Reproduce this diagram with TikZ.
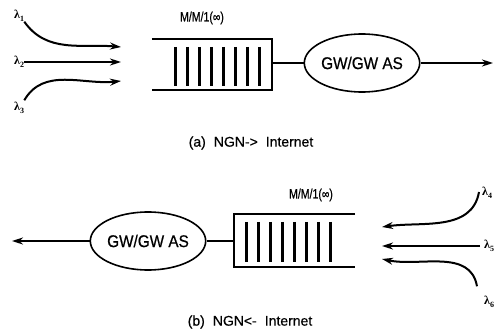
\documentclass[tikz,border=0pt]{standalone}
\usepackage{fontspec}
\setmainfont{Liberation Sans}[FakeBold=0.6]
\newfontfamily\capfont{Liberation Sans}[FakeBold=0.6]
\newfontfamily\gwfont{Liberation Sans}[FakeStretch=0.9,FakeBold=0.6]
\newfontfamily\mmfont{Liberation Sans}[FakeStretch=0.78,FakeBold=0.6]
\newfontfamily\lamfont{Liberation Serif}
\usetikzlibrary{shapes.geometric,arrows.meta}
\newcommand\lsub[1]{λ\raisebox{-2.5pt}{\fontsize{8}{8}\selectfont #1}}
\begin{document}
\begin{tikzpicture}[x=1pt,y=-1pt,
  conn/.style={line width=2pt},
  qline/.style={line width=2.2pt},
  arr/.style={line width=2pt,-{Stealth[length=11pt,width=7pt]}},
  gw/.style={ellipse,draw,line width=1.6pt,inner sep=0pt,minimum width=103pt,minimum height=58pt,font=\gwfont\fontsize{17}{17}\selectfont},
  queue/.style={rectangle,draw=none,inner sep=0pt},
  bar/.style={line width=2.9pt},
  mm/.style={font=\mmfont\fontsize{13.5}{14}\selectfont,inner sep=0pt},
  lam/.style={font=\lamfont\bfseries\fontsize{12}{12}\selectfont,inner sep=0pt},
  captext/.style={font=\capfont\fontsize{14}{14}\selectfont,inner sep=0pt}]
\useasboundingbox (0,0) rectangle (497,331);

% ---------- (a) ----------
\node[queue,minimum width=120pt,minimum height=51pt] (qa) at (212,64.5) {};
\draw[qline] (qa.north west) -- (qa.north east) -- (qa.south east) -- (qa.south west);
\foreach \i in {0,...,7}
  \draw[bar] ([xshift=24pt+\i*11.9pt,yshift=-8pt]qa.north west) -- ([xshift=24pt+\i*11.9pt,yshift=4pt]qa.south west);
\node[mm] (mma) at (202,18) {M/M/1(∞)};
\node[gw] (ga) at (362,63) {GW/GW AS};
\draw[conn] (ga.west) -- (ga.west -| qa.east);
\coordinate (oa) at (493,63);
\draw[arr] (ga.east) -- (oa);

\node[lam,anchor=west] (l1) at (14,16) {\lsub{1}};
\node[lam,anchor=west] (l2) at (14,62) {\lsub{2}};
\node[lam,anchor=west] (l3) at (14,108) {\lsub{3}};
\coordinate (t1) at (121,47);
\coordinate (t2) at (121,62);
\coordinate (t3) at (121,81);
\draw[arr] (l1.south east) to[out=-55,in=175] (t1);
\draw[arr] (l2.east) -- (t2);
\draw[arr] ([yshift=2pt]l3.north east) to[out=60,in=186] (t3);
\node[captext] (capa) at (251,143) {(a)\hspace{8pt}NGN-{}>\hspace{8pt}Internet};

% ---------- (b) ----------
\node[queue,minimum width=121pt,minimum height=53pt] (qb) at (294.5,240.5) {};
\draw[qline] (qb.north east) -- (qb.north west) -- (qb.south west) -- (qb.south east);
\foreach \i in {0,...,7}
  \draw[bar] ([xshift=13pt+\i*11.9pt,yshift=-8pt]qb.north west) -- ([xshift=13pt+\i*11.9pt,yshift=5pt]qb.south west);
\node[mm] (mmb) at (311,195) {M/M/1(∞)};
\node[gw] (gb) at (148,241) {GW/GW AS};
\draw[conn] (gb.east) -- (gb.east -| qb.west);
\coordinate (ob) at (12,241);
\draw[arr] (gb.west) -- (ob);

\node[lam,anchor=west] (l4) at (482,193) {\lsub{4}};
\node[lam,anchor=west] (l5) at (484,246) {\lsub{5}};
\node[lam,anchor=west] (l6) at (484,302) {\lsub{6}};
\coordinate (t4) at (382,227);
\coordinate (t5) at (382,246);
\coordinate (t6) at (382,259);
\draw[arr] ([xshift=-3pt,yshift=1pt]l4.west) to[out=-100,in=8] (t4);
\draw[arr] ([xshift=-4pt]l5.west) -- (t5);
\draw[arr] ([xshift=-7pt,yshift=10pt]l6.north west) to[out=100,in=-12] (t6);
\node[captext] (capb) at (250,322) {(b)\hspace{8pt}NGN<-\hspace{8pt}Internet};
\end{tikzpicture}
\end{document}
